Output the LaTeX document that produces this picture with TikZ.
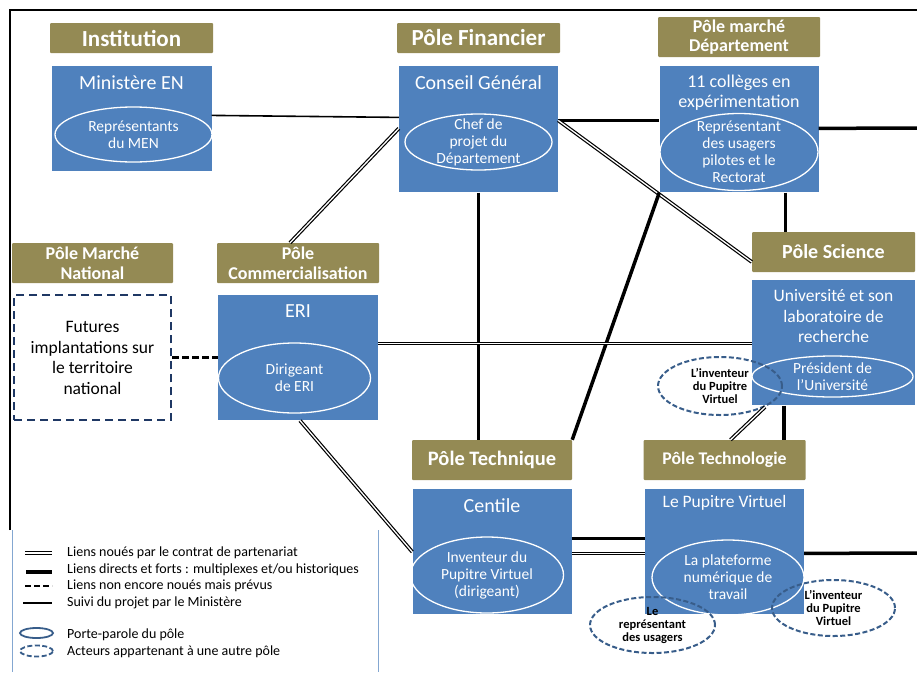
\documentclass[tikz,border=0pt]{standalone}
\usepackage{fontspec}
\setmainfont{Carlito}
\usetikzlibrary{positioning, shapes.geometric}

\definecolor{polegold}{RGB}{148,138,84}
\definecolor{poleblue}{RGB}{79,129,189}
\definecolor{dashnavy}{RGB}{31,56,100}
\definecolor{otherblue}{RGB}{56,93,138}
\newcommand{\fsz}[2]{\fontsize{#1}{#2}\selectfont}

\begin{document}
\begin{tikzpicture}[x=1pt, y=-1pt,
     node distance = 9pt and 9pt,
        head/.style = {rectangle, fill=polegold, text=white, font=\bfseries\fsz{20}{22}, minimum width=163pt, minimum height=30pt, inner sep=1pt, align=center, rounded corners=1pt},
       head2/.style = {head, font=\bfseries\fsz{18}{19.5}, minimum height=40pt},
        pbox/.style = {rectangle, fill=poleblue, minimum width=160pt, minimum height=126pt, inner sep=0pt},
      ptitle/.style = {text=white, font=\fsz{20}{22}, align=center, inner sep=0pt},
       spoke/.style = {ellipse, draw=white, line width=1.3pt, text=white, font=\fsz{15.5}{17}, align=center, inner sep=0pt},
  otheractor/.style = {ellipse, draw=otherblue, line width=2pt, dash pattern=on 5pt off 2.5pt, text=black, font=\bfseries\fsz{12.5}{13}, align=center, inner sep=0pt},
    followed/.style = {line width=1.6pt},
  strongline/.style = {line width=3.5pt},
         dbl/.style = {double, double distance=1.3pt, line width=1.2pt},
     planned/.style = {line width=3pt, dash pattern=on 7pt off 3pt},
     legtext/.style = {anchor=west, font=\fsz{14}{16}, inner sep=0pt}
                        ]
\useasboundingbox (0,0) rectangle (917,672);
\draw[line width=2pt] (10,530) -- (10,10) -- (917,10);

% poles
\node (hInst)[head, font=\bfseries\fsz{23}{24}] at (131.5,38) {Institution};
\node (hFin)[head, font=\bfseries\fsz{23}{24}] at (478.5,38) {Pôle Financier};
\node (hDep)[head2, minimum width=162pt] at (739,37) {Pôle marché\\Département};
\node (hNat)[head2, minimum width=161pt] at (92.5,263) {Pôle Marché\\National};
\node (hCom)[head2, minimum width=162pt] at (298,263) {Pôle\\Commercialisation};
\node (hSci)[head, minimum height=40pt] at (833.5,252) {Pôle Science};
\node (hTech)[head, minimum width=160pt, minimum height=40pt, font=\bfseries\fsz{20.5}{22}] at (492,460) {Pôle Technique};
\node (hTchn)[head, minimum width=162pt, minimum height=40pt, font=\bfseries\fsz{17.8}{20}] at (724.5,460) {Pôle Technologie};

\node (bMin)[pbox, below=13pt of hInst, minimum height=105pt] {};
\node (bCG)[pbox, below=13pt of hFin, minimum width=159pt] {};
\node (bCol)[pbox, below=of hDep, minimum width=159pt] {};
\node (bFut)[rectangle, draw=dashnavy, line width=2.2pt, dash pattern=on 8pt off 5pt, minimum width=157pt, minimum height=125pt, below=11pt of hNat, align=center, font=\fsz{17.5}{20.7}] {Futures\\implantations sur\\le territoire\\national};
\node (bERI)[pbox, below=12pt of hCom, minimum height=125pt] {};
\node (bUni)[pbox, below=8pt of hSci, minimum width=163pt, minimum height=125pt] {};
\node (bCen)[pbox, below=of hTech, minimum width=159pt, minimum height=125pt] {};
\node (bPup)[pbox, below=of hTchn, minimum width=159pt, minimum height=125pt] {};

\node (tMin)[ptitle] at ([yshift=-16pt]bMin.north) {Ministère EN};
\node (tCG)[ptitle] at ([yshift=-16pt]bCG.north) {Conseil Général};
\node (tCol)[ptitle, font=\fsz{18}{20}] at ([yshift=-26pt]bCol.north) {11 collèges en\\expérimentation};
\node (tERI)[ptitle] at ([yshift=-16pt]bERI.north) {ERI};
\node (tUni)[ptitle, font=\fsz{17.5}{20.5}] at ([yshift=-36pt]bUni.north) {Université et son\\laboratoire de\\recherche};
\node (tCen)[ptitle] at ([yshift=-16pt]bCen.north) {Centile};
\node (tPup)[ptitle, font=\fsz{17.5}{20}] at ([yshift=-14pt]bPup.north) {Le Pupitre Virtuel};

% porte-parole
\node (eMin)[spoke, minimum width=157pt, minimum height=55pt] at (133.5,134.5) {Représentants\\du MEN};
\node (eCG)[spoke, minimum width=147pt, minimum height=56pt, inner ysep=-7pt] at (478.5,142) {Chef de\\projet du\\Département};
\node (eCol)[spoke, minimum width=158pt, minimum height=77pt, inner ysep=-10pt] at (739,152) {Représentant\\des usagers\\pilotes et le\\Rectorat};
\node (eERI)[spoke, minimum width=152pt, minimum height=70pt] at (294.5,378) {Dirigeant\\de ERI};
\node (eUni)[spoke, minimum width=161pt, minimum height=41pt, inner ysep=-4pt] at (832.5,376.5) {Président de\\l’Université};
\node (eCen)[spoke, minimum width=153pt, minimum height=76pt] at (487,575) {Inventeur du\\Pupitre Virtuel\\(dirigeant)};
\node (ePup)[spoke, minimum width=152pt, minimum height=75pt] at (728,577.5) {La plateforme\\numérique de\\travail};

\node (dInvU)[otheractor, minimum width=124pt, minimum height=58pt] at (720,386) {L’inventeur\\du Pupitre\\Virtuel};
\node (dRep)[otheractor, minimum width=125pt, minimum height=56pt] at (652.5,625) {Le\\représentant\\des usagers};
\node (dInvP)[otheractor, minimum width=123pt, minimum height=56pt] at (833.5,608) {L’inventeur\\du Pupitre\\Virtuel};

% links
\coordinate (eastCol) at (917,128);
\coordinate (eastPup) at (917,553);
\draw[followed] ([yshift=3.5pt]bMin.east) -- ([yshift=12pt]bCG.west);
\draw[strongline] ([yshift=9pt]bCG.east) -- ([yshift=9pt]bCol.west);
\draw[strongline] ([yshift=1pt]bCol.east) -- (eastCol);
\draw[dbl] ([xshift=-8pt]hCom.north) -- ([yshift=1pt]bCG.west);
\draw[dbl] ([yshift=9pt]bCG.east) -- ([yshift=-10pt]hSci.west);
\draw[strongline] (bCG.south) -- (bCG.south |- hTech.north);
\draw[strongline] (bCol.south west) -- (hTech.north east);
\draw[strongline] ([xshift=46.5pt]bCol.south) -- ([xshift=46.5pt]bCol.south |- hSci.north);
\draw[dbl] ([yshift=14.5pt]bERI.east) -- ([yshift=14.5pt]bERI.east -| bUni.west);
\draw[planned] (bFut.east) -- (bFut.east -| bERI.west);
\draw[dbl] ([xshift=2pt]bERI.south) -- (bCen.west);
\draw[strongline] ([xshift=-49.5pt]bUni.south) -- ([xshift=-49.5pt]bUni.south |- hTchn.north);
\draw[dbl] (dInvU.-25) -- ([xshift=6pt]hTchn.north);
\draw[strongline] ([yshift=13.5pt]bCen.east) -- ([yshift=13.5pt]bCen.east -| bPup.west);
\draw[dbl] ([yshift=-1.5pt]bCen.east) -- ([yshift=-1.5pt]bCen.east -| bPup.west);
\draw[strongline] ([yshift=-1.5pt]bPup.east) -- (eastPup);

% legend
\draw[poleblue!70, line width=0.8pt] (12,530) -- (12,672);
\draw[poleblue!70, line width=0.8pt] (378,530) -- (378,672);
\coordinate (k1a) at (25,553); \coordinate (k1b) at (52,553);
\coordinate (k2a) at (26,572); \coordinate (k2b) at (52,572);
\coordinate (k3a) at (25,586); \coordinate (k3b) at (52,586);
\coordinate (k4a) at (23,603); \coordinate (k4b) at (52,603);
\draw[dbl] (k1a) -- (k1b);
\draw[strongline] (k2a) -- (k2b);
\draw[line width=1.6pt, dash pattern=on 6pt off 3pt] (k3a) -- (k3b);
\draw[followed] (k4a) -- (k4b);
\node (k5)[ellipse, draw=otherblue, line width=1.8pt, minimum width=33pt, minimum height=10pt, inner sep=0pt] at (36.5,633) {};
\node (k6)[ellipse, draw=otherblue, line width=1.8pt, dash pattern=on 5pt off 2.5pt, minimum width=33pt, minimum height=11pt, inner sep=0pt] at (36.5,651) {};
\node (l1)[legtext] at (67,553) {Liens noués par le contrat de partenariat};
\node (l2)[legtext] at (67,570) {Liens directs et forts : multiplexes et/ou historiques};
\node (l3)[legtext] at (67,586) {Liens non encore noués mais prévus};
\node (l4)[legtext] at (67,603) {Suivi du projet par le Ministère};
\node (l5)[legtext] at (67,635) {Porte-parole du pôle};
\node (l6)[legtext] at (67,652) {Acteurs appartenant à une autre pôle};
\end{tikzpicture}
\end{document}
